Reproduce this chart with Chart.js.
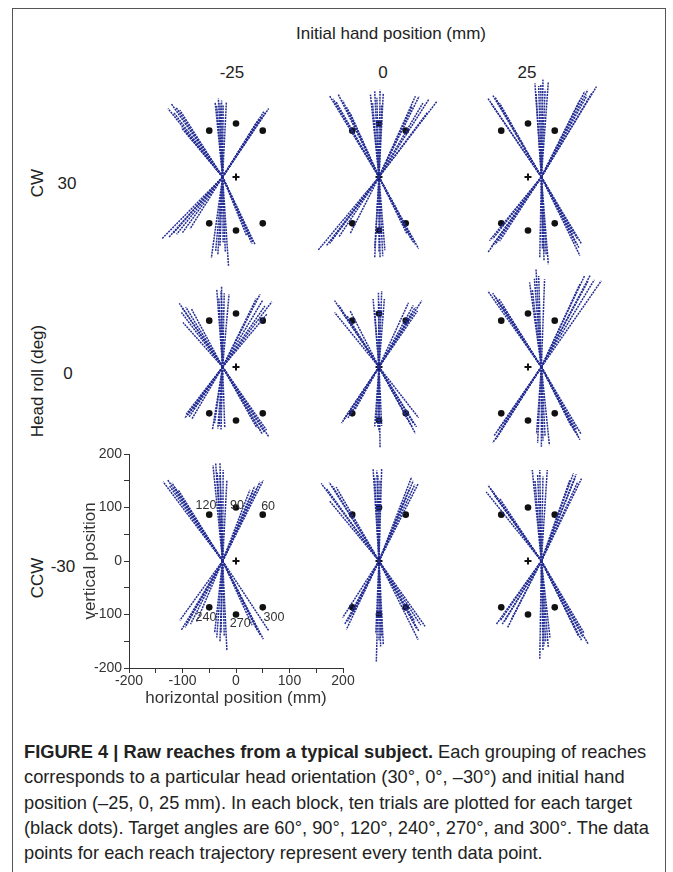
<!DOCTYPE html>
<html><head><meta charset="utf-8">
<script src="https://cdn.jsdelivr.net/npm/chart.js@4"></script>
<style>
html,body{margin:0;padding:0;background:#fff;}
body{width:673px;height:872px;position:relative;overflow:hidden;font-family:"Liberation Sans",Arial,sans-serif;color:#222;}
#frame{position:absolute;left:12px;top:8px;width:654px;height:900px;border:1px solid #555;box-sizing:border-box;}
.lbl{position:absolute;font-size:17px;white-space:nowrap;transform:translate(-50%,-50%);line-height:1;}
.rot{transform:translate(-50%,-50%) rotate(-90deg);}
canvas{position:absolute;}
#caption{position:absolute;left:24px;top:739px;font-family:"Liberation Sans",Arial,sans-serif;font-size:18.5px;line-height:25.3px;color:#222;white-space:nowrap;transform-origin:0 0;}
#caption div{display:block;}
#caption span.l{display:inline-block;}
</style></head>
<body>
<div id="frame"></div>
<div class="lbl" style="left:391px;top:33px;">Initial hand position (mm)</div>
<div class="lbl" style="left:232px;top:72px;">-25</div>
<div class="lbl" style="left:383px;top:72px;">0</div>
<div class="lbl" style="left:527px;top:72px;">25</div>
<div class="lbl rot" style="left:37px;top:183px;">CW</div>
<div class="lbl" style="left:67px;top:183px;">30</div>
<div class="lbl rot" style="left:37px;top:381px;">Head roll (deg)</div>
<div class="lbl" style="left:68px;top:373px;">0</div>
<div class="lbl rot" style="left:37px;top:578px;">CCW</div>
<div class="lbl" style="left:63px;top:566px;">-30</div>
<div id="caption">
<div><span class="l"><b>FIGURE 4 | Raw reaches from a typical subject.</b> Each grouping of reaches</span></div>
<div><span class="l">corresponds to a particular head orientation (30°, 0°, –30°) and initial hand</span></div>
<div><span class="l" id="widest">position (–25, 0, 25 mm). In each block, ten trials are plotted for each target</span></div>
<div><span class="l">(black dots). Target angles are 60°, 90°, 120°, 240°, 270°, and 300°. The data</span></div>
<div><span class="l">points for each reach trajectory represent every tenth data point.</span></div>
</div>
<script>
// ---------- DATA ----------
const headRolls = [30, 0, -30];          // rows (deg)
const handPositions = [-25, 0, 25];      // columns (mm) = start x of reaches
const targetAngles = [60, 90, 120, 240, 270, 300];
const targetX = [50, 0, -50, -50, 0, 50];
const targetY = [86.6, 100, 86.6, -86.6, -100, -86.6];
const angleLabelText = ['60', '90', '120', '240', '270', '300'];
const angleLabelX = [60, 2, -56, -56, 8, 71];
const angleLabelY = [101, 103, 103, -106, -117, -106];
const axisTicks = [-200, -100, 0, 100, 200];

// reach end points (mm), grouped by target in order 60,90,120,240,270,300
const reach_30_m25 = [
  [[39,103],[44,110],[48,112],[55,120],[61,128],[52,122]],
  [[-39,140],[-33,147],[-27,143],[-18,140],[-24,135],[-30,138],[-36,133]],
  [[-127,128],[-121,137],[-112,130],[-105,125],[-102,92],[-95,86],[-116,120]],
  [[-138,-115],[-125,-112],[-111,-107],[-100,-104],[-86,-97],[-118,-106]],
  [[-46,-151],[-38,-138],[-30,-130],[-24,-122],[-20,-140],[-14,-166],[-34,-146]],
  [[36,-127],[32,-122],[27,-116],[20,-110],[30,-125]]
];
const reach_30_0 = [
  [[62,132],[68,151],[75,151],[93,145],[108,141],[90,120],[82,138]],
  [[-16,154],[-8,160],[2,163],[8,157],[-12,138],[5,135],[-4,148]],
  [[-92,151],[-86,146],[-76,154],[-68,143],[-60,130],[-54,120],[-80,140]],
  [[-114,-137],[-98,-128],[-89,-118],[-75,-112],[-54,-106],[-92,-124]],
  [[-8,-150],[2,-152],[7,-148],[11,-137],[-8,-133],[0,-140]],
  [[74,-134],[68,-126],[60,-116],[52,-106],[64,-122]]
];
const reach_30_p25 = [
  [[97,144],[106,160],[112,163],[120,158],[128,169],[110,152]],
  [[13,175],[20,170],[28,182],[38,178],[15,157],[32,163],[24,172]],
  [[-75,147],[-66,153],[-60,145],[-53,138],[-70,139],[-62,150]],
  [[-75,-141],[-72,-119],[-66,-116],[-61,-126],[-53,-120],[-68,-130]],
  [[22,-150],[30,-157],[38,-163],[27,-135],[34,-145],[30,-140]],
  [[97,-147],[100,-125],[92,-115],[84,-106],[95,-132],[90,-125]]
];
const reach_0_m25 = [
  [[45,136],[54,114],[67,122],[58,99],[38,128],[50,125]],
  [[-36,146],[-27,152],[-22,138],[-13,136],[-32,128],[-28,142]],
  [[-106,119],[-102,102],[-99,83],[-94,112],[-83,108],[-100,110]],
  [[-96,-96],[-90,-90],[-80,-80],[-83,-98],[-93,-88],[-88,-94]],
  [[-44,-117],[-34,-115],[-28,-117],[-21,-114],[-40,-105],[-31,-110]],
  [[61,-130],[57,-118],[49,-125],[39,-114],[53,-122],[45,-118]]
];
const reach_0_0 = [
  [[55,120],[64,115],[80,124],[61,99],[72,105],[68,112]],
  [[-11,127],[-1,139],[5,142],[10,127],[-8,105],[0,120]],
  [[-83,124],[-83,102],[-70,105],[-54,105],[-60,96],[-75,115]],
  [[-70,-105],[-64,-96],[-54,-90],[-45,-80],[-67,-100],[-58,-95]],
  [[-8,-111],[-2,-114],[2,-152],[5,-110],[-5,-100],[0,-120]],
  [[74,-95],[68,-124],[62,-112],[55,-100],[70,-112],[64,-105]]
];
const reach_0_p25 = [
  [[106,171],[116,171],[137,161],[97,155],[124,163],[112,160]],
  [[3,158],[15,183],[20,170],[31,164],[8,145],[12,165]],
  [[-75,142],[-66,138],[-54,127],[-47,114],[-62,132],[-58,125]],
  [[-66,-142],[-63,-128],[-56,-118],[-44,-105],[-60,-135],[-52,-120]],
  [[18,-142],[25,-149],[40,-146],[32,-130],[16,-125],[28,-138]],
  [[97,-136],[99,-125],[91,-118],[81,-111],[94,-130],[88,-122]]
];
const reach_m30_m25 = [
  [[26,133],[35,140],[45,148],[51,151],[40,138],[32,130]],
  [[-43,179],[-38,183],[-30,183],[-24,170],[-17,151],[-30,160],[-35,165]],
  [[-136,148],[-128,152],[-120,146],[-115,138],[-108,133],[-124,140]],
  [[-105,-111],[-102,-129],[-95,-124],[-85,-118],[-74,-114],[-92,-116]],
  [[-40,-135],[-36,-143],[-30,-150],[-17,-168],[-22,-140],[-28,-135]],
  [[30,-120],[40,-130],[51,-146],[61,-130],[45,-138],[38,-124]]
];
const reach_m30_0 = [
  [[61,157],[67,143],[73,144],[57,135],[51,119],[64,150]],
  [[-11,172],[-4,169],[5,172],[2,150],[-8,156],[-2,160]],
  [[-108,145],[-93,147],[-87,140],[-80,138],[-93,113],[-98,135]],
  [[-68,-106],[-61,-128],[-59,-113],[-49,-100],[-54,-104],[-64,-118]],
  [[-5,-188],[8,-156],[5,-141],[-6,-136],[0,-148],[3,-160]],
  [[86,-122],[73,-147],[70,-126],[67,-113],[78,-120],[75,-132]]
];
const reach_m30_p25 = [
  [[85,164],[90,162],[100,154],[78,151],[93,148],[88,155]],
  [[8,170],[13,151],[22,170],[36,170],[18,162],[28,158]],
  [[-75,142],[-78,129],[-70,135],[-63,123],[-53,117],[-66,130]],
  [[-59,-118],[-48,-118],[-38,-124],[-31,-109],[-44,-113],[-52,-112]],
  [[22,-184],[28,-168],[38,-162],[41,-143],[33,-150],[30,-158]],
  [[113,-156],[103,-143],[94,-140],[91,-131],[105,-135],[100,-148]]
];
const reachGrid = [
  [reach_30_m25, reach_30_0, reach_30_p25],
  [reach_0_m25, reach_0_0, reach_0_p25],
  [reach_m30_m25, reach_m30_0, reach_m30_p25]
];

// ---------- LAYOUT (pixels) ----------
const colOrigin = [236, 379, 528];
const rowOrigin = [177, 367, 561];
const AXW = 52, AXH = 45, PADT = 12, PADR = 16, PLOT = 214;
const CW = AXW + PLOT + PADR, CH = PADT + PLOT + AXH;
const BLUE = 'rgb(36,46,148)';
const FONT = "'Liberation Sans', Arial, sans-serif";
Chart.defaults.font.family = FONT;

// fit caption to the reference line width (condensed look)
(function () {
  const w = document.getElementById('widest').getBoundingClientRect().width;
  document.getElementById('caption').style.transform = 'scaleX(' + (608 / w) + ')';
})();

const angleLabelPlugin = {
  id: 'angleLabels',
  afterDatasetsDraw(chart, args, opts) {
    if (!opts.show) return;
    const {ctx} = chart; const x = chart.scales.x, y = chart.scales.y;
    ctx.save();
    ctx.font = '12.5px ' + FONT; ctx.fillStyle = '#333';
    ctx.textAlign = 'center'; ctx.textBaseline = 'middle';
    angleLabelText.forEach((t, i) => ctx.fillText(t, x.getPixelForValue(angleLabelX[i]), y.getPixelForValue(angleLabelY[i])));
    ctx.restore();
  }
};

function scaleOpts(show, isX) {
  const col = show ? '#333' : 'rgba(0,0,0,0)';
  return {
    type: 'linear', min: -200, max: 200,
    position: isX ? 'bottom' : 'left',
    afterFit(s) { if (isX) s.height = AXH; else s.width = AXW; },
    border: {display: true, color: col, width: 1},
    grid: {display: true, drawOnChartArea: false, drawTicks: true, tickLength: 5, color: col, tickColor: col},
    ticks: {stepSize: 50, color: col, font: {size: 14}, padding: isX ? 0 : 2, autoSkip: false, maxRotation: 0,
      callback: v => (axisTicks.includes(v) ? String(v) : '')},
    title: {display: true, text: isX ? 'horizontal position (mm)' : 'vertical position', color: col,
      font: {size: 17}, padding: isX ? {top: 0, bottom: 4} : {top: 3, bottom: 0}}
  };
}

function makePanel(r, c) {
  const showAxes = (r === 2 && c === 0);
  const sx = handPositions[c], sy = 0;
  const datasets = [];
  reachGrid[r][c].forEach(group => group.forEach(([ex, ey]) => {
    datasets.push({data: [{x: sx, y: sy}, {x: ex, y: ey}], showLine: true, borderColor: BLUE,
      borderWidth: 1.5, borderDash: [2, 0.9], pointRadius: 0, clip: false});
  }));
  datasets.push({data: targetX.map((x, i) => ({x, y: targetY[i]})), pointRadius: 3.3,
    backgroundColor: '#111', borderColor: '#111', borderWidth: 0, clip: false});
  datasets.push({data: [{x: 0, y: 0}], pointStyle: 'cross', pointRadius: 3.5, borderColor: '#111', borderWidth: 2, clip: false});

  const cv = document.createElement('canvas');
  cv.width = CW; cv.height = CH;
  cv.style.width = CW + 'px'; cv.style.height = CH + 'px';
  cv.style.left = (colOrigin[c] - AXW - PLOT / 2) + 'px';
  cv.style.top = (rowOrigin[r] - PADT - PLOT / 2) + 'px';
  document.body.appendChild(cv);
  new Chart(cv, {
    type: 'scatter',
    data: {datasets},
    options: {
      responsive: false, animation: false, devicePixelRatio: 1,
      layout: {padding: {top: PADT, right: PADR, left: 0, bottom: 0}},
      scales: {x: scaleOpts(showAxes, true), y: scaleOpts(showAxes, false)},
      plugins: {legend: {display: false}, tooltip: {enabled: false}, angleLabels: {show: showAxes}}
    },
    plugins: [angleLabelPlugin]
  });
}
for (let r = 0; r < 3; r++) for (let c = 0; c < 3; c++) makePanel(r, c);
</script>
</body></html>
